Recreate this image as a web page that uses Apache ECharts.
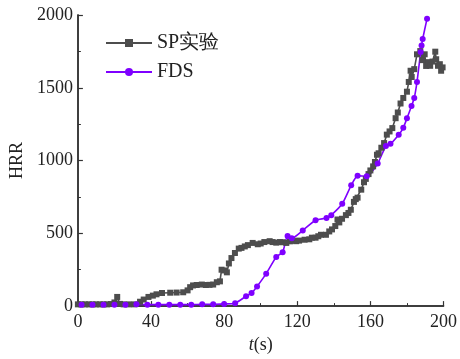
<!DOCTYPE html>
<html><head><meta charset="utf-8">
<script src="https://cdn.jsdelivr.net/npm/echarts@6/dist/echarts.min.js"></script>
<style>html,body{margin:0;padding:0;background:#fff}#c{width:460px;height:359px}</style>
</head><body><div id="c"></div>
<script>
const spT = [0,2,4,6,8,10,12,14,16,18,20,21.5,23,25,28,31,34,36,38.6,41,43,46,50.5,54,57.6,60,61.4,63,65,67.8,70,72,74,76,77.7,78.6,80,81.5,82.6,84,85.9,88,89.5,91.3,93,95.6,98.4,100,102,104.9,106.5,108.5,110.5,112,114,116,117.5,119.4,121,124,126.6,128,130,131.5,133,135.7,137.5,139,140.8,142,143,144.5,146.6,148,149.3,151,152,153,155,156.5,157.5,159,160,161.5,162.5,163.6,164.5,166,167.5,169,170.5,172,173.8,175,176.5,178,180,181,182,182.6,184,185.5,187.3,188.5,189.7,190.5,192,192.7,194,195.5,196,197,198,198.7,199.5];
const spV = [12,12,12,12,12,12,12,12,12,14,25,63,15,12,12,12,30,45,63,72,81,90,92,93,95,108,130,142,145,148,145,146,148,164,170,250,245,232,293,330,365,395,400,410,419,434,425,430,440,446,440,436,440,439,434,445,450,446,450,456,459,470,470,480,490,490,513,527,550,595,575,600,625,640,662,716,735,745,800,851,874,907,932,960,990,1040,1050,1088,1120,1178,1200,1223,1291,1330,1392,1430,1473,1540,1617,1574,1628,1730,1752,1690,1730,1650,1676,1651,1680,1748,1696,1651,1662,1617,1640];
const fdsT = [2,8,14,20,26,32,38,44,50,56,62,68,74,80,86,92,95,98,103,108.5,112,114.7,117,123,130,136,138.6,144.6,149.5,153,158,164,168.5,171,175.5,178,180,182.5,184,185.5,187.5,188,188.6,191];
const fdsV = [10,10,10,10,10,12,10,10,10,10,10,12,12,15,20,68,90,135,223,338,370,482,466,520,590,605,625,703,830,895,892,980,1100,1115,1178,1225,1290,1375,1430,1540,1745,1790,1835,1975];
const xTicks = [0,40,80,120,160,200];
const yTicks = [0,500,1000,1500,2000];

const sp = spT.map((t,i)=>[t,spV[i]]);
const fds = fdsT.map((t,i)=>[t,fdsV[i]]);
const font = "serif";
const cjk = "serif";
const chart = echarts.init(document.getElementById('c'));
chart.setOption({
  animation:false,
  grid:{left:77,right:15,top:15,bottom:47},
  textStyle:{fontFamily:'serif'},
  legend:{
    orient:'vertical', left:100, top:28, itemWidth:46, itemHeight:10, itemGap:9,
    textStyle:{fontFamily:cjk,fontSize:20,color:'#222'},
    data:['SP实验','FDS']
  },
  xAxis:[{
    type:'value', min:xTicks[0], max:xTicks[xTicks.length-1], interval:40,
    name:'{i|t}(s)', nameLocation:'middle', nameGap:25,
    nameTextStyle:{fontFamily:font,fontSize:18,color:'#222',rich:{i:{fontStyle:'italic',fontFamily:font,fontSize:18,color:'#222'}}},
    axisLine:{lineStyle:{color:'#333',width:1.5}},
    axisTick:{inside:true,length:5,lineStyle:{color:'#333',width:1.2}},
    minorTick:{show:true,splitNumber:2,length:3,lineStyle:{color:'#333',width:1}},
    axisLabel:{fontFamily:font,fontSize:18,color:'#222',margin:7,formatter:v=>String(v)},
    splitLine:{show:false}
  },{
    type:'value', position:'top', min:0, max:200,
    axisLine:{show:true,lineStyle:{color:'#333',width:1.5}},
    axisTick:{show:false}, axisLabel:{show:false}, splitLine:{show:false}
  }],
  yAxis:[{
    type:'value', min:yTicks[0], max:yTicks[yTicks.length-1], interval:500,
    name:'HRR', nameLocation:'middle', nameGap:48,
    nameTextStyle:{fontFamily:font,fontSize:18,color:'#222'},
    axisLine:{show:true,lineStyle:{color:'#333',width:1.5}},
    axisTick:{inside:true,length:5,lineStyle:{color:'#333',width:1.2}},
    minorTick:{show:true,splitNumber:2,length:3,lineStyle:{color:'#333',width:1}},
    axisLabel:{fontFamily:font,fontSize:18,color:'#222',margin:5,formatter:v=>String(v)},
    splitLine:{show:false}
  },{
    type:'value', position:'right', min:0, max:2000,
    axisLine:{show:true,lineStyle:{color:'#333',width:1.5}},
    axisTick:{show:false}, axisLabel:{show:false}, splitLine:{show:false}
  }],
  series:[{
    name:'SP实验', type:'line', data:sp, symbol:'rect', symbolSize:6,
    lineStyle:{color:'#4d4d4d',width:1.6}, itemStyle:{color:'#4d4d4d'}
  },{
    name:'FDS', type:'line', data:fds, symbol:'circle', symbolSize:6, smooth:0.2,
    lineStyle:{color:'#7f00ff',width:1.6}, itemStyle:{color:'#7f00ff'}
  }]
});
</script></body></html>
